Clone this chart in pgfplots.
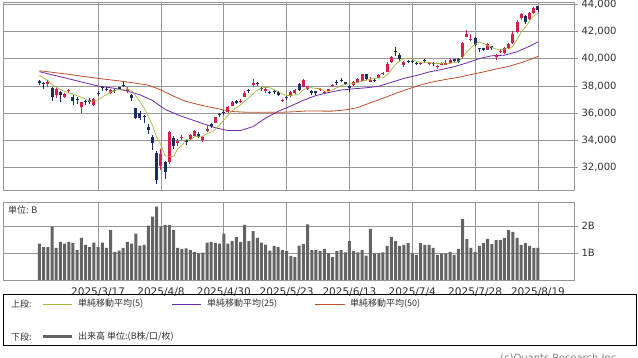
\documentclass[border=0pt]{standalone}
\usepackage{fontspec}
\setmainfont{DejaVu Sans}
\newfontfamily\cjk{Noto Sans CJK JP}
\usepackage{pgfplots}
\usepackage{pgfplotstable}
\pgfplotsset{compat=1.18}
\definecolor{gridc}{RGB}{150,150,150}
\definecolor{labc}{RGB}{50,50,50}
\definecolor{ma5c}{RGB}{165,185,60}
\definecolor{ma25c}{RGB}{110,40,170}
\definecolor{ma50c}{RGB}{190,80,40}
\definecolor{upc}{RGB}{212,30,75}
\definecolor{dnc}{RGB}{25,45,105}
\definecolor{volc}{RGB}{100,100,100}

\pgfplotstableread{
i o h l c
2 38150 38400 37900 38256
4 37350 37860 37100 37785
6 37200 37500 37100 37418
7 37600 37800 37500 37705
10 36450 36850 35990 36793
13 36600 37100 36500 37053
17 37500 37750 37400 37677
21 37600 37900 37500 37800
29 32100 33400 31800 33013
31 32400 34700 32300 34609
33 33800 34100 33600 33982
34 34200 34400 34000 34268
36 34100 34450 34000 34378
37 34350 34800 34300 34730
39 34000 34300 33900 34221
40 34700 35100 34600 34869
42 35300 35750 35250 35706
45 36100 36500 36000 36452
46 36550 36900 36500 36831
48 36850 37050 36750 36929
49 37200 37600 37150 37503
51 38100 38500 37900 38183
54 37600 37900 37450 37754
58 36900 37050 36850 36986
60 37260 37600 37200 37532
61 37460 37800 37400 37724
63 37940 38500 37900 38433
64 37750 38000 37700 37965
67 37680 37850 37600 37747
68 37500 37650 37450 37554
69 37650 37800 37600 37742
70 38000 38150 37950 38089
75 38070 38350 38000 38311
76 38240 38600 38200 38537
77 38380 38900 38350 38885
79 38300 38650 38250 38403
81 38600 38850 38550 38791
82 38850 39050 38800 38942
83 39050 39750 39000 39585
84 39770 40200 39700 40151
87 39550 39850 39400 39762
91 39600 39750 39500 39689
93 39600 39750 39500 39646
95 39350 39500 39250 39460
96 39550 39750 39500 39678
97 39550 39900 39500 39663
98 39700 39950 39650 39901
101 40100 41250 40000 41171
102 41600 42070 41550 41826
103 41410 41800 41300 41456
107 40650 41150 40600 41070
109 40100 40350 39900 40291
110 40500 40700 40400 40550
111 40400 40850 40350 40795
112 40750 41150 40700 41059
113 41160 42000 41100 41820
114 41970 42850 41900 42718
115 42950 43350 42800 43275
117 42880 43450 42800 43378
118 43360 43800 43300 43714
}\upT

\pgfplotstableread{
i o h l c
0 38380 38450 38100 38238
1 38200 38260 37750 38142
3 37820 37900 36860 37156
5 37560 37600 36800 37331
8 37200 37300 36600 36887
9 37060 37150 36700 37028
11 36900 37000 36600 36819
12 37000 37100 36650 36790
14 37500 37600 37250 37397
15 37950 38000 37600 37845
16 37800 37950 37600 37752
18 37700 37800 37500 37608
19 37900 37950 37700 37781
20 38100 38250 37950 38027
22 37330 37400 36900 37120
23 36380 36400 35540 35618
24 36000 36150 35480 35624
25 35750 35850 35250 35726
26 35000 35200 34500 34736
27 34250 34400 33300 33781
28 33050 33200 30790 31137
30 32400 32500 31200 31714
32 34150 34300 33400 33586
35 34000 34100 33700 33920
38 34500 34600 34200 34280
41 35200 35300 34950 35039
43 35950 36000 35700 35840
44 36100 36200 35850 36045
47 36900 37000 36700 36780
50 37700 37800 37450 37644
52 38200 38300 38000 38128
53 37850 37950 37650 37756
55 37550 37650 37400 37499
56 37600 37700 37400 37529
57 37530 37600 37250 37299
59 37200 37300 37000 37160
62 38140 38200 37650 37722
65 37650 37700 37300 37471
66 37600 37650 37350 37447
71 38300 38400 38100 38212
72 38450 38550 38300 38421
73 38250 38300 38100 38173
74 38000 38050 37550 37834
78 38850 38900 38400 38488
80 38450 38500 38300 38354
85 40550 40850 40200 40487
86 40300 40400 39850 39986
88 39800 39900 39650 39786
89 39850 39950 39700 39811
90 39700 39800 39500 39588
92 39900 39950 39700 39821
94 39650 39750 39450 39570
99 39950 40000 39700 39819
100 39950 40050 39650 39775
104 41490 41550 40950 40998
105 40750 40800 40500 40675
106 40750 40800 40550 40655
108 40900 40950 40650 40800
116 43120 43200 42550 42649
119 43850 43880 43400 43546
}\dnT

\pgfplotstableread{
i v
0 38785
1 38560
2 38418
3 38114
4 37915
5 37734
6 37589
7 37479
8 37425
9 37274
10 37166
11 37046
12 36863
13 36897
14 36970
15 37181
16 37367
17 37545
18 37656
19 37733
20 37769
21 37779
22 37667
23 37269
24 36838
25 36378
26 35765
27 35097
28 34201
29 33679
30 32876
31 32851
32 32812
33 33381
34 33632
35 34073
36 34027
37 34256
38 34315
39 34306
40 34496
41 34628
42 34823
43 35135
44 35500
45 35816
46 36175
47 36390
48 36607
49 36899
50 37137
51 37408
52 37677
53 37843
54 37893
55 37864
56 37733
57 37567
58 37413
59 37295
60 37301
61 37340
62 37425
63 37714
64 37875
65 37863
66 37808
67 37813
68 37637
69 37592
70 37716
71 37869
72 38004
73 38127
74 38146
75 38190
76 38255
77 38348
78 38411
79 38525
80 38533
81 38584
82 38596
83 38815
84 39165
85 39591
86 39830
87 39994
88 40034
89 39966
90 39787
91 39727
92 39739
93 39711
94 39663
95 39637
96 39635
97 39603
98 39654
99 39704
100 39767
101 40066
102 40498
103 40809
104 41045
105 41225
106 41122
107 40971
108 40840
109 40698
110 40673
111 40701
112 40699
113 40903
114 41388
115 41933
116 42304
117 42768
118 43147
119 43312
}\maFive

\pgfplotstableread{
i v
0 39040
7 38520
14 37990
18 37820
21 37620
24 37346
27 36930
30 36274
33 35881
36 35558
39 35237
42 34931
45 34728
48 34728
51 35018
54 35646
57 36143
60 36523
63 36943
66 37293
69 37511
72 37697
75 37787
78 37861
81 37971
84 38261
87 38551
90 38763
93 39020
96 39206
99 39405
102 39686
105 40001
108 40210
111 40250
114 40500
117 40908
119 41230
}\maTwentyFive

\pgfplotstableread{
i v
0 39110
7 38850
14 38550
20 38330
26 38060
29 37700
32 37250
35 36860
39 36550
43 36300
46 36120
49 36075
52 36061
55 36076
58 36072
61 36107
64 36165
67 36153
70 36152
73 36237
76 36409
79 36766
82 37090
85 37451
88 37774
91 38073
94 38302
97 38477
100 38625
103 38833
106 39024
109 39238
112 39426
115 39705
117 39922
119 40161
}\maFifty

\pgfplotstableread{
i v
0 1.35
1 1.22
2 1.22
3 1.98
4 1.19
5 1.41
6 1.35
7 1.41
8 1.37
9 1.11
10 1.56
11 1.30
12 1.22
13 1.38
14 1.22
15 1.38
16 1.19
17 1.85
18 1.04
19 1.09
20 1.19
21 1.41
22 1.35
23 1.72
24 1.27
25 1.30
26 2.01
27 2.35
28 2.72
29 1.98
30 2.04
31 2.04
32 1.85
33 1.19
34 1.15
35 1.17
36 1.11
37 1.04
38 0.99
39 1.01
40 1.38
41 1.41
42 1.37
43 1.35
44 1.72
45 1.35
46 1.44
47 1.59
48 1.41
49 2.04
50 1.44
51 1.81
52 1.56
53 1.38
54 1.31
55 1.09
56 1.26
57 1.22
58 1.11
59 1.07
60 0.89
61 0.85
62 1.27
63 1.33
64 2.06
65 1.11
66 1.11
67 1.07
68 1.15
69 1.00
70 0.85
71 1.07
72 1.11
73 1.02
74 1.44
75 1.07
76 1.02
77 1.11
78 0.90
79 1.89
80 0.99
81 0.99
82 1.02
83 1.26
84 1.59
85 1.44
86 1.26
87 1.30
88 1.37
89 0.99
90 0.93
91 1.37
92 1.30
93 1.30
94 1.19
95 0.93
96 0.99
97 0.99
98 1.04
99 0.93
100 1.15
101 2.26
102 1.52
103 1.19
104 1.04
105 1.26
106 1.37
107 1.52
108 1.33
109 1.48
110 1.48
111 1.56
112 1.85
113 1.78
114 1.56
115 1.30
116 1.37
117 1.26
118 1.19
119 1.19
}\volT

\pgfplotsset{
  common/.style={
    scale only axis,
    width=571pt,
    xmin=-8.7, xmax=127.6,
    xtick={14,29,44,59,74,89,104,119},
    grid=major,
    grid style={gridc, line width=0.6pt},
    axis line style={gridc, line width=0.6pt},
    ytick pos=right, yticklabel pos=right,
    tick align=outside, major tick length=4pt,
    xtick style={draw=none},
    ytick style={gridc, line width=0.6pt},
    yticklabel style={font=\fontsize{10}{12}\selectfont, text=labc},
    xticklabel style={font=\fontsize{10.5}{12}\selectfont, text=labc},
  },
  candle/.style n args={2}{draw=none, mark=none, forget plot,
    error bars/.cd, y dir=plus, y explicit, error mark=none,
    error bar style={draw=#1, line width=#2}},
}

\begin{document}
\begin{tikzpicture}
\path[use as bounding box] (0pt,0pt) rectangle (638pt,358pt);

\begin{axis}[common,
  anchor=south west, at={(3pt,168pt)}, height=188pt,
  ymin=30370, ymax=44150,
  xticklabels={},
  ytick={32000,34000,36000,38000,40000,42000,44000},
  yticklabels={{32,000},{34,000},{36,000},{38,000},{40,000},{42,000},{44,000}},
]
\addplot[ma50c, line width=0.8pt] table[x=i, y=v] {\maFifty};
\addplot[ma25c, line width=0.8pt] table[x=i, y=v] {\maTwentyFive};
% wicks
\addplot[candle={upc}{0.9pt}]
  table[x=i, y=l, y error expr={\thisrow{h}-\thisrow{l}}] {\upT};
\addplot[candle={dnc}{0.9pt}]
  table[x=i, y=l, y error expr={\thisrow{h}-\thisrow{l}}] {\dnT};
% bodies
\addplot[candle={upc}{3pt}]
  table[x=i, y=o, y error expr={max(\thisrow{c}-\thisrow{o},45)}] {\upT};
\addplot[candle={dnc}{3pt}]
  table[x=i, y=c, y error expr={max(\thisrow{o}-\thisrow{c},45)}] {\dnT};
\addplot[ma5c, line width=0.7pt] table[x=i, y=v] {\maFive};
\end{axis}

\begin{axis}[common,
  anchor=south west, at={(3pt,78pt)}, height=78pt,
  ymin=0, ymax=2.89,
  xticklabels={2025/3/17,2025/4/8,2025/4/30,2025/5/23,2025/6/13,2025/7/4,2025/7/28,2025/8/19},
  ytick={1,2}, yticklabels={1B,2B},
  ybar, bar width=3pt,
]
\addplot[fill=volc, draw=none] table[x=i, y=v] {\volT};
\end{axis}

\node[anchor=west, inner sep=0, font=\cjk\fontsize{9}{10}\selectfont, text=labc] at (8pt,148pt) {単位: B};

% legend box
\draw[black, line width=0.8pt] (3.5pt,13pt) rectangle (636pt,64pt);
\begin{scope}[every node/.style={anchor=west, inner sep=0, font=\cjk\fontsize{9}{10}\selectfont, text=labc}]
\node at (11pt,54pt) {上段:};
\draw[ma5c, line width=0.8pt] (43pt,54pt) -- (72pt,54pt);
\node at (78pt,54pt) {単純移動平均(5)};
\draw[ma25c, line width=0.8pt] (172pt,54pt) -- (201pt,54pt);
\node at (207pt,54pt) {単純移動平均(25)};
\draw[ma50c, line width=0.8pt] (315pt,54pt) -- (345pt,54pt);
\node at (350pt,54pt) {単純移動平均(50)};
\node at (11pt,21pt) {下段:};
\draw[volc, line width=3pt] (43pt,21pt) -- (72pt,21pt);
\node at (78pt,21pt) {出来高 単位:(B株/口/枚)};
\end{scope}
\node[anchor=north west, inner sep=0, font=\fontsize{10}{11}\selectfont, text=gray] at (500pt,4.5pt) {(c)Quants Research Inc.};
\end{tikzpicture}
\end{document}
